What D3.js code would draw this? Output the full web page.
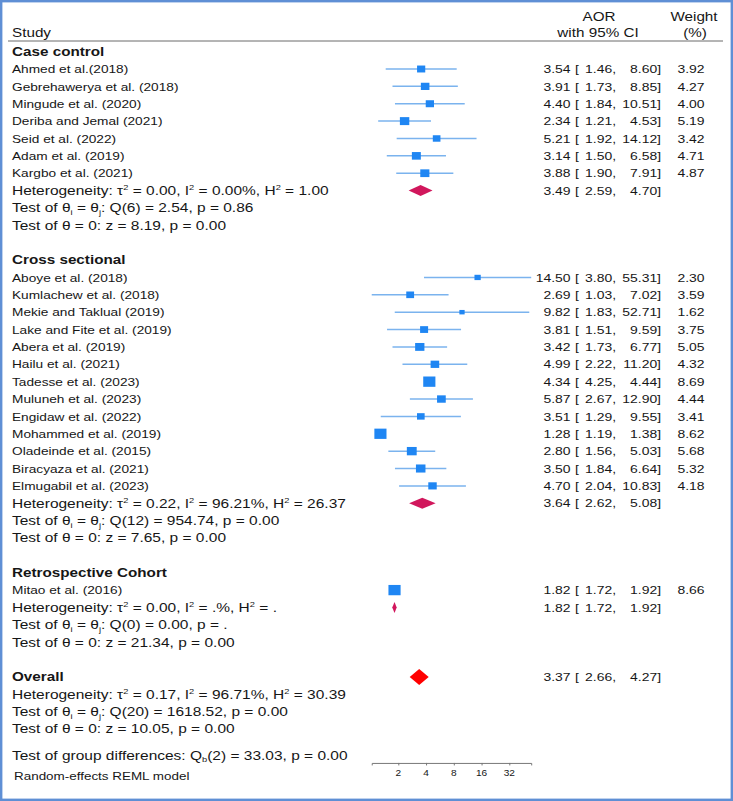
<!DOCTYPE html>
<html><head><meta charset="utf-8">
<script src="https://cdn.jsdelivr.net/npm/d3@7"></script>
<style>
body{margin:0;background:#fff}
svg{display:block}
text{font-family:"Liberation Sans",Arial,sans-serif;fill:#161616}
</style>
</head><body>
<svg id="chart" width="733" height="801"></svg>
<script>
// ---------- data ----------
const groups = ["Case control", "Cross sectional", "Retrospective Cohort"];
const studies = [
  "Ahmed et al.(2018)", "Gebrehawerya et al. (2018)", "Mingude et al. (2020)", "Deriba and Jemal (2021)",
  "Seid et al. (2022)", "Adam et al. (2019)", "Kargbo et al. (2021)",
  "Aboye et al. (2018)", "Kumlachew et al. (2018)", "Mekie and Taklual (2019)", "Lake and Fite et al. (2019)",
  "Abera et al. (2019)", "Hailu et al. (2021)", "Tadesse et al. (2023)", "Muluneh et al. (2023)",
  "Engidaw et al. (2022)", "Mohammed et al. (2019)", "Oladeinde et al. (2015)", "Biracyaza et al. (2021)",
  "Elmugabil et al. (2023)",
  "Mitao et al. (2016)"
];
const studyGroup = [0,0,0,0,0,0,0, 1,1,1,1,1,1,1,1,1,1,1,1,1, 2];
const aor   = [3.54, 3.91, 4.40, 2.34, 5.21, 3.14, 3.88, 14.50, 2.69, 9.82, 3.81, 3.42, 4.99, 4.34, 5.87, 3.51, 1.28, 2.80, 3.50, 4.70, 1.82];
const lower = [1.46, 1.73, 1.84, 1.21, 1.92, 1.50, 1.90, 3.80, 1.03, 1.83, 1.51, 1.73, 2.22, 4.25, 2.67, 1.29, 1.19, 1.56, 1.84, 2.04, 1.72];
const upper = [8.60, 8.85, 10.51, 4.53, 14.12, 6.58, 7.91, 55.31, 7.02, 52.71, 9.59, 6.77, 11.20, 4.44, 12.90, 9.55, 1.38, 5.03, 6.64, 10.83, 1.92];
const weight = [3.92, 4.27, 4.00, 5.19, 3.42, 4.71, 4.87, 2.30, 3.59, 1.62, 3.75, 5.05, 4.32, 8.69, 4.44, 3.41, 8.62, 5.68, 5.32, 4.18, 8.66];

const groupAor   = [3.49, 3.64, 1.82];
const groupLower = [2.59, 2.62, 1.72];
const groupUpper = [4.70, 5.08, 1.92];
const groupHet = [
  "Heterogeneity: τ^{2} = 0.00, I^{2} = 0.00%, H^{2} = 1.00",
  "Heterogeneity: τ^{2} = 0.22, I^{2} = 96.21%, H^{2} = 26.37",
  "Heterogeneity: τ^{2} = 0.00, I^{2} = .%, H^{2} = ."
];
const groupQ = [
  "Test of θ_{i} = θ_{j}: Q(6) = 2.54, p = 0.86",
  "Test of θ_{i} = θ_{j}: Q(12) = 954.74, p = 0.00",
  "Test of θ_{i} = θ_{j}: Q(0) = 0.00, p = ."
];
const groupZ = [
  "Test of θ = 0: z = 8.19, p = 0.00",
  "Test of θ = 0: z = 7.65, p = 0.00",
  "Test of θ = 0: z = 21.34, p = 0.00"
];
const overallLabel = "Overall";
const overallAor = 3.37, overallLower = 2.66, overallUpper = 4.27;
const overallHet = "Heterogeneity: τ^{2} = 0.17, I^{2} = 96.71%, H^{2} = 30.39";
const overallQ = "Test of θ_{i} = θ_{j}: Q(20) = 1618.52, p = 0.00";
const overallZ = "Test of θ = 0: z = 10.05, p = 0.00";
const groupDiff = "Test of group differences: Q_{b}(2) = 33.03, p = 0.00";
const modelNote = "Random-effects REML model";
const tickValues = [2, 4, 8, 16, 32];
const headers = {study: "Study", est1: "AOR", est2: "with 95% CI", w1: "Weight", w2: "(%)"};

// ---------- setup ----------
const svg = d3.select("#chart");
const x = d3.scaleLog().base(2).domain([2, 32]).range([398.3, 509.3]);
const y = d3.scaleLinear().domain([0, 1]).range([69, 86.37]);
const f2 = d3.format(".2f");

// text styles: font size + horizontal stretch
const ST = {
  study: {fs: 11.6, sx: 1.18},
  stat:  {fs: 12.3, sx: 1.26},
  head:  {fs: 12.2, sx: 1.25, bold: true},
  hdr:   {fs: 12.5, sx: 1.22},
  num:   {fs: 11.6, sx: 1.2},
  note:  {fs: 11.2, sx: 1.2},
  tick:  {fs: 8.8, sx: 1.15}
};

function rich(sel, str, fs) {
  const parts = str.split(/(\^\{[^}]*\}|_\{[^}]*\})/).filter(s => s.length);
  let shift = 0;
  parts.forEach(p => {
    const t = sel.append("tspan");
    if (p.startsWith("^{")) {
      t.attr("dy", -fs * 0.42 - shift).attr("font-size", fs * 0.6).text(p.slice(2, -1));
      shift = -fs * 0.42;
    } else if (p.startsWith("_{")) {
      t.attr("dy", fs * 0.2 - shift).attr("font-size", fs * 0.6).text(p.slice(2, -1));
      shift = fs * 0.2;
    } else {
      t.attr("dy", -shift).text(p);
      shift = 0;
    }
  });
}

function label(str, xp, yc, style, anchor = "start", baselineAbs = false) {
  const s = ST[style];
  const yb = baselineAbs ? yc : yc + s.fs * 0.36;
  const t = svg.append("text")
    .attr("transform", `translate(${xp},${yb}) scale(${s.sx},1)`)
    .attr("font-size", s.fs)
    .attr("text-anchor", anchor);
  if (s.bold) t.attr("font-weight", "bold");
  rich(t, str, s.fs);
  return t;
}

// border
svg.append("rect").attr("x", 1.2).attr("y", 1.2).attr("width", 730.6).attr("height", 798.6)
  .attr("fill", "none").attr("stroke", "#5f8fd5").attr("stroke-width", 2.4);

// header
label(headers.study, 12, 36.8, "hdr", "start", true);
label(headers.est1, 599, 20.5, "hdr", "middle", true);
label(headers.est2, 598, 36.8, "hdr", "middle", true);
label(headers.w1, 694, 20.5, "hdr", "middle", true);
label(headers.w2, 695, 36.8, "hdr", "middle", true);
svg.append("line").attr("x1", 8).attr("x2", 723).attr("y1", 41).attr("y2", 41)
  .attr("stroke", "#6b6b6b").attr("stroke-width", 1);

// number columns
function ciText(i, est, lo, hi, w) {
  const yc = y(i);
  label(f2(est), 570.5, yc, "num", "end");
  label("[", 575, yc, "num", "start");
  label(f2(lo) + ",", 616, yc, "num", "end");
  label(f2(hi) + "]", 661, yc, "num", "end");
  if (w !== null) label(f2(w), 704.5, yc, "num", "end");
}

function diamond(i, est, lo, hi, h, color) {
  const yc = y(i);
  const pts = [[x(lo), yc], [x(est), yc - h / 2], [x(hi), yc], [x(est), yc + h / 2]];
  svg.append("path").attr("d", d3.line()(pts) + "Z").attr("fill", color);
}

const ciG = svg.append("g");
const boxG = svg.append("g");

let row = -1;
groups.forEach((g, gi) => {
  label(g, 12, y(row), "head");
  row++;
  studies.forEach((s, si) => {
    if (studyGroup[si] !== gi) return;
    const yc = y(row);
    label(s, 12, yc, "study");
    ciG.append("line").attr("x1", x(lower[si])).attr("x2", x(upper[si]))
      .attr("y1", yc).attr("y2", yc).attr("stroke", "#7bb3ee").attr("stroke-width", 1.5);
    const h = 3.5 * Math.sqrt(weight[si]);
    const wd = h * 1.18;
    boxG.append("rect").attr("x", x(aor[si]) - wd / 2).attr("y", yc - h / 2)
      .attr("width", wd).attr("height", h).attr("fill", "#1f86f3");
    ciText(row, aor[si], lower[si], upper[si], weight[si]);
    row++;
  });
  label(groupHet[gi], 12, y(row), "stat");
  diamond(row, groupAor[gi], groupLower[gi], groupUpper[gi], 11, "#d1175c");
  ciText(row, groupAor[gi], groupLower[gi], groupUpper[gi], null);
  row++;
  label(groupQ[gi], 12, y(row), "stat"); row++;
  label(groupZ[gi], 12, y(row), "stat"); row++;
  row++;
});

// overall
label(overallLabel, 12, y(row), "head");
diamond(row, overallAor, overallLower, overallUpper, 16, "#ff0000");
ciText(row, overallAor, overallLower, overallUpper, null);
row++;
label(overallHet, 12, y(row), "stat"); row++;
label(overallQ, 12, y(row), "stat"); row++;
label(overallZ, 12, y(row), "stat"); row++;
label(groupDiff, 12, y(row + 0.5), "stat");
label(modelNote, 14, y(row + 1.7), "note");

// axis spanning the range of all confidence limits
const minL = d3.min(lower), maxU = d3.max(upper);
const xa = x.copy().domain([minL, maxU]).range([x(minL), x(maxU)]);
const axisY = y(row + 0.95);
const ax = svg.append("g").attr("transform", `translate(0,${axisY})`)
  .call(d3.axisBottom(xa).tickValues(tickValues).tickFormat(d3.format("d")).tickSizeOuter(0).tickSize(2.5).tickPadding(3));
ax.select(".domain").attr("stroke", "#777");
ax.selectAll(".tick line").attr("stroke", "#777");
ax.selectAll(".tick text").remove();
tickValues.forEach(v => label(String(v), xa(v), axisY + 10.3, "tick", "middle"));
</script>
</body></html>
